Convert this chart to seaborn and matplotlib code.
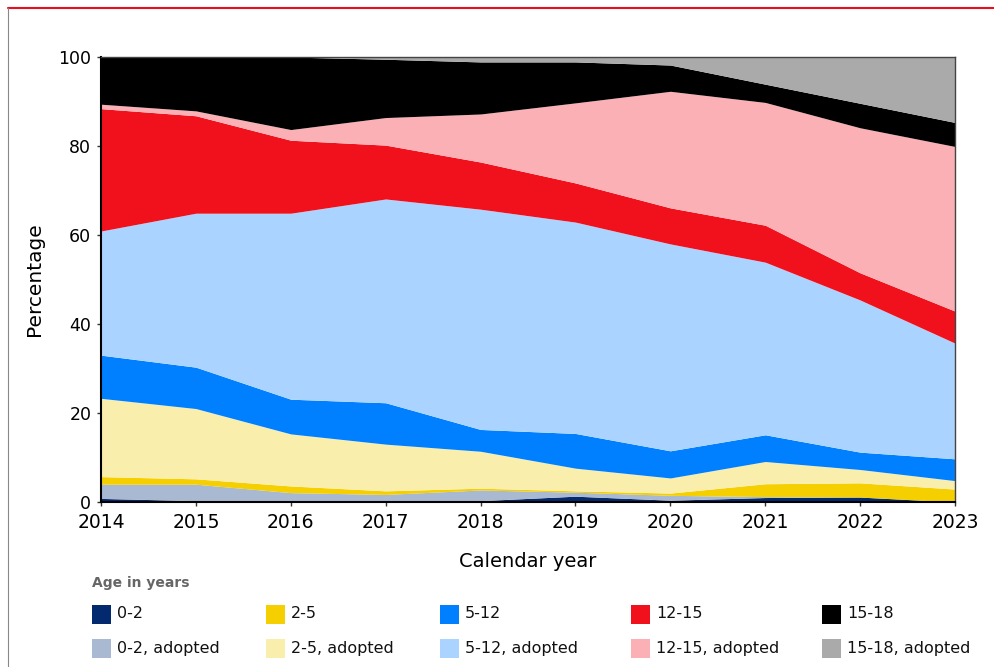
import numpy as np
import pandas as pd
import matplotlib.pyplot as plt
import seaborn as sns
from matplotlib.patches import Rectangle
from matplotlib.lines import Line2D

years = [2014, 2015, 2016, 2017, 2018, 2019, 2020, 2021, 2022, 2023]

# share (%) per age group, bottom to top of the stack
age_0_2 = [0.8, 0.3, 0.0, 0.0, 0.3, 1.3, 0.4, 1.0, 1.1, 0.0]
age_0_2_adopted = [3.2, 3.7, 2.1, 1.7, 2.4, 0.9, 1.1, 0.2, 0.0, 0.0]
age_2_5 = [1.7, 1.2, 1.5, 0.8, 0.4, 0.3, 0.5, 2.9, 3.2, 2.9]
age_2_5_adopted = [17.6, 15.8, 11.7, 10.5, 8.3, 5.1, 3.4, 5.0, 3.0, 1.9]
age_5_12 = [9.7, 9.3, 7.8, 9.3, 4.9, 7.8, 6.1, 6.0, 3.9, 4.9]
age_5_12_adopted = [27.9, 34.6, 41.8, 45.8, 49.5, 47.5, 46.5, 38.8, 34.2, 26.0]
age_12_15 = [27.5, 21.9, 16.4, 12.1, 10.6, 8.8, 8.1, 8.3, 6.1, 7.2]
age_12_15_adopted = [1.0, 1.1, 2.4, 6.2, 10.8, 18.0, 26.2, 27.6, 32.6, 37.0]
age_15_18 = [10.6, 12.1, 16.3, 13.1, 11.7, 9.2, 5.9, 4.1, 5.5, 5.4]
age_15_18_adopted = [0.0, 0.0, 0.0, 0.5, 1.1, 1.1, 1.8, 6.1, 10.4, 14.7]

labels = ["0-2", "0-2, adopted", "2-5", "2-5, adopted", "5-12", "5-12, adopted",
          "12-15", "12-15, adopted", "15-18", "15-18, adopted"]
colors = ["#03296e", "#a9b9d2", "#f5cf00", "#faeeac", "#0080ff", "#aad4ff",
          "#f0111c", "#fab0b4", "#000000", "#aaaaaa"]

df = pd.DataFrame({
    "0-2": age_0_2, "0-2, adopted": age_0_2_adopted,
    "2-5": age_2_5, "2-5, adopted": age_2_5_adopted,
    "5-12": age_5_12, "5-12, adopted": age_5_12_adopted,
    "12-15": age_12_15, "12-15, adopted": age_12_15_adopted,
    "15-18": age_15_18, "15-18, adopted": age_15_18_adopted,
}, index=years)

sns.set_style("white")
plt.rcParams['font.family'] = ['DejaVu Sans']

fig = plt.figure(figsize=(9.94, 6.67), dpi=100)
ax = fig.add_axes([0.1016, 0.2474, 0.8592, 0.6671])

ax.stackplot(df.index, [df[c] for c in labels], colors=colors, linewidth=0)

ax.set_xlim(2014, 2023)
ax.set_ylim(0, 100)
ax.set_xticks(years)
ax.set_yticks([0, 20, 40, 60, 80, 100])
ax.tick_params(axis='both', length=3, width=1, color="#333333", labelcolor="black",
               bottom=True, left=True, direction='out')
ax.tick_params(axis='x', labelsize=13.5, pad=5)
ax.tick_params(axis='y', labelsize=12.5, pad=4)
ax.set_xlabel("Calendar year", fontsize=14, labelpad=14, color="black")
ax.set_ylabel("Percentage", fontsize=14.5, labelpad=10, color="black")
for s in ["left", "bottom"]:
    ax.spines[s].set_color("black")
    ax.spines[s].set_linewidth(1.5)
for s in ["top", "right"]:
    ax.spines[s].set_color("#444444")
    ax.spines[s].set_linewidth(1)

# legend drawn by hand in figure pixels
W, H = 994, 667
fig.text(92 / W, 1 - 583 / H, "Age in years", fontsize=10, fontweight='bold',
         color="#666666", va='center', ha='left')
col_x = [92, 266, 440, 631, 822]
row_y = [614, 648]
for i, (lab, col) in enumerate(zip(labels, colors)):
    cx = col_x[i // 2]
    ry = row_y[i % 2]
    fig.add_artist(Rectangle((cx / W, 1 - (ry + 9.5) / H), 19 / W, 19 / H,
                             transform=fig.transFigure, facecolor=col, edgecolor='none'))
    fig.text((cx + 25) / W, 1 - ry / H, lab, fontsize=11.5, va='center', ha='left',
             color="#111111")

# outer frame: red top line and grey left edge
fig.add_artist(Line2D([8 / W, 1], [1 - 8 / H, 1 - 8 / H], color="#e8101c", lw=1.5,
                      transform=fig.transFigure))
fig.add_artist(Line2D([8 / W, 8 / W], [0, 1 - 8 / H], color="#888888", lw=0.8,
                      transform=fig.transFigure))

fig.savefig("out.png", dpi=100)
